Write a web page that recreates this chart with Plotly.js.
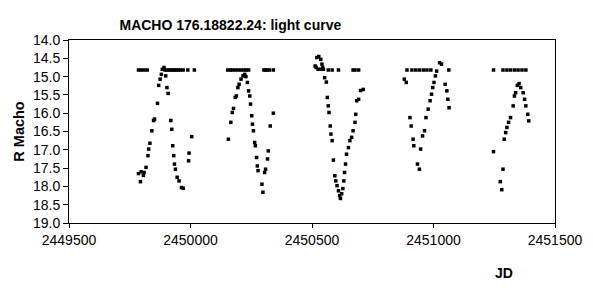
<!DOCTYPE html>
<html><head><meta charset="utf-8">
<script src="https://cdn.plot.ly/plotly-3.0.1.min.js"></script>
<style>body{margin:0;background:#fff}#c{width:593px;height:297px}</style>
</head><body><div id="c"></div>
<script>
// Julian dates (JD) and R Macho magnitudes
const jd = [
 2449786,2449797,2449809,2449822,2449895,2449903,2449911,2449919,2449927,2449934,2449942,2449950,2449958,2449970,2449989,2450016,
 2449794,2449786,2449797,2449806,2449809,2449817,2449825,2449828,2449833,2449841,2449848,2449852,2449864,2449869,2449875,2449880,2449884,2449891,
 2449898,2449903,2449908,2449919,2449923,2449927,2449931,2449934,2449938,2449945,2449953,2449963,2449970,
 2449992,2449994,2450005,
 2450153,2450164,2450172,2450184,2450197,2450208,2450219,2450228,2450239,2450302,2450309,2450317,2450325,2450341,
 2450156,2450166,2450172,2450177,2450184,2450189,2450195,2450200,2450208,2450216,2450223,2450228,2450234,2450239,2450244,2450247,2450252,2450255,2450259,2450264,2450267,2450272,2450275,2450278,2450294,2450298,2450305,2450309,2450317,2450320,2450328,2450341,
 2450513,2450517,2450520,2450525,2450528,2450536,2450536,2450541,2450544,2450547,
 2450567,2450583,2450609,2450669,2450677,2450692,
 2450552,2450559,2450563,2450567,2450570,2450575,2450578,2450583,2450588,2450594,2450598,2450603,2450609,2450614,2450617,2450622,2450627,2450631,2450634,2450638,2450642,2450650,2450656,2450663,2450669,2450677,2450680,2450684,2450692,2450700,2450711,
 2450880,2450888,2450891,2450911,2450927,2450942,2450958,2450973,2450989,2451063,
 2450903,2450908,2450916,2450919,2450934,2450942,2450947,2450955,2450963,2450969,2450978,2450986,2450992,2450997,2451002,2451008,2451013,2451025,2451033,2451048,2451055,2451059,2451064,
 2451247,2451286,2451302,2451317,2451333,2451348,2451364,2451380,
 2451247,2451275,2451281,2451286,2451291,2451297,2451302,2451309,2451317,2451328,2451333,2451338,2451345,2451352,2451359,2451369,2451375,2451380,2451388,2451392
];
const rmag = [
 14.82,14.82,14.82,14.82,14.82,14.82,14.82,14.82,14.82,14.82,14.82,14.82,14.82,14.82,14.82,14.82,
 17.87,17.65,17.60,17.70,17.62,17.48,17.16,16.98,16.82,16.48,16.20,16.16,15.73,15.24,15.07,14.94,14.80,14.75,
 14.98,15.30,15.46,16.20,16.44,16.89,17.16,17.39,17.53,17.75,17.85,18.03,18.05,
 17.30,17.09,16.64,
 14.82,14.82,14.82,14.82,14.82,14.82,14.82,14.82,14.82,14.82,14.82,14.82,14.82,14.82,
 16.71,16.25,15.98,15.87,15.57,15.53,15.30,15.21,15.07,14.98,14.94,15.00,15.16,15.39,15.53,15.75,16.07,16.30,16.48,16.80,16.89,17.21,17.44,17.57,17.94,18.16,17.62,17.53,17.25,17.03,16.35,16.00,
 14.71,14.75,14.48,14.80,14.45,14.53,14.80,14.66,14.75,14.80,
 14.82,14.82,14.82,14.82,14.82,14.82,
 15.03,15.15,15.57,15.80,15.98,16.35,16.57,16.75,17.28,17.71,17.85,17.98,18.12,18.25,18.33,18.20,18.06,17.85,17.62,17.39,17.12,16.94,16.75,16.66,16.48,16.25,16.03,15.66,15.62,15.38,15.35,
 15.07,15.16,14.82,14.82,14.82,14.82,14.82,14.82,14.82,14.82,
 16.12,16.35,16.71,16.89,17.39,17.53,16.98,16.62,16.48,16.12,15.89,15.66,15.48,15.30,15.16,14.98,14.85,14.62,14.66,15.21,15.39,15.62,15.85,
 14.82,14.82,14.82,14.82,14.82,14.82,14.82,14.82,
 17.05,17.87,18.09,17.53,16.71,16.53,16.39,16.25,16.12,15.80,15.53,15.44,15.24,15.19,15.30,15.44,15.62,15.80,16.03,16.21
];
const xTicks = [2449500, 2450000, 2450500, 2451000, 2451500];
const yTicks = [14.0, 14.5, 15.0, 15.5, 16.0, 16.5, 17.0, 17.5, 18.0, 18.5, 19.0];

const font = {family: 'Liberation Sans, Arial, sans-serif', color: '#000'};
Plotly.newPlot('c', [{
  x: jd, y: rmag, type: 'scatter', mode: 'markers',
  marker: {symbol: 'square', size: 3.5, color: '#000', line: {width: 0}},
  hoverinfo: 'none'
}], {
  width: 593, height: 297,
  margin: {l: 69, r: 38, t: 40, b: 74},
  paper_bgcolor: '#fff', plot_bgcolor: '#fff',
  showlegend: false,
  title: {text: '<b>MACHO 176.18822.24: light curve</b>', font: Object.assign({size: 14}, font),
          xref: 'paper', x: 0.332, xanchor: 'center', yref: 'container', y: 0.916, yanchor: 'middle'},
  xaxis: {range: [2449500, 2451500], tickvals: xTicks, ticktext: xTicks.map(String),
          showgrid: false, zeroline: false, showline: true, linecolor: '#000', linewidth: 1, mirror: true,
          ticks: 'outside', ticklen: 4, tickcolor: '#000', tickfont: Object.assign({size: 14}, font)},
  yaxis: {range: [19.0, 14.0], tickvals: yTicks, ticktext: yTicks.map(v => v.toFixed(1)),
          showgrid: false, zeroline: false, showline: true, linecolor: '#000', linewidth: 1, mirror: true,
          ticks: 'outside', ticklen: 5, tickcolor: '#000', tickfont: Object.assign({size: 14}, font),
          title: {text: '<b>R Macho</b>', font: Object.assign({size: 14.5}, font), standoff: 4}},
  annotations: [{text: '<b>JD</b>', xref: 'paper', yref: 'paper', x: 0.895, y: -0.273,
                 xanchor: 'center', yanchor: 'middle', showarrow: false, font: Object.assign({size: 14}, font)}]
}, {staticPlot: true});
</script></body></html>
